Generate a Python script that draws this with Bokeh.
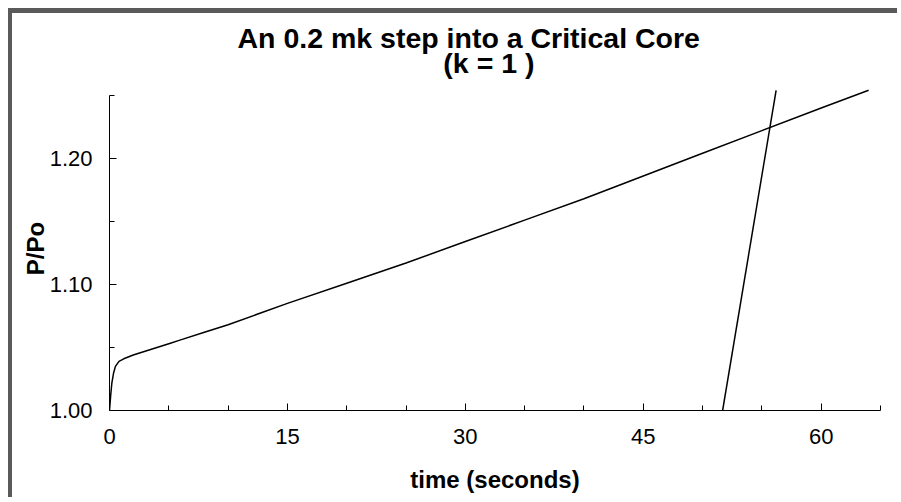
from bokeh.plotting import figure
from bokeh.models import Range1d, FixedTicker, Title
from bokeh.embed import file_html
from bokeh.resources import INLINE

# data
t_main = [0.0, 0.1, 0.2, 0.35, 0.5, 0.8, 1.2, 2.0, 3.0, 4.0, 5.0, 6.0, 8.0, 10.0,
          15.0, 20.0, 25.0, 30.0, 35.0, 40.0, 45.0, 50.0, 55.0, 60.0, 64.0]
p_main = [1.000, 1.012, 1.022, 1.030, 1.035, 1.039, 1.041, 1.044, 1.047, 1.050, 1.053, 1.056,
          1.062, 1.068, 1.085, 1.101, 1.117, 1.134, 1.151, 1.168, 1.186, 1.204, 1.222, 1.240, 1.254]
t_steep = [51.6, 56.2]
p_steep = [0.995, 1.254]

x_major = [0, 15, 30, 45, 60]
x_minor = [5, 10, 20, 25, 35, 40, 50, 55, 65]
y_major = [1.00, 1.10, 1.20]
y_minor = [1.05, 1.15, 1.25]
y_labels = ["1.00", "1.10", "1.20"]

title1 = "An 0.2 mk step into a Critical Core"
title2 = "(k = 1 )"
FONT = "Liberation Sans"

p = figure(width=889, height=489, output_backend="svg", toolbar_location=None,
           x_range=Range1d(0, 65), y_range=Range1d(1.00, 1.257),
           min_border_left=97, min_border_right=21, min_border_top=73, min_border_bottom=92)
p.styles = {"border-top": "5px solid #5a5a5a", "border-left": "4px solid #5a5a5a",
            "margin-left": "8px", "margin-top": "8px"}
p.outline_line_color = None
p.grid.visible = False
p.background_fill_color = "white"
p.border_fill_color = "white"

# two-line title; the second line is indented so it sits under the middle of the chart
p.add_layout(Title(text=title1 + "\n" + "\u00a0" * 26 + title2, align="left", offset=128,
                   text_font=FONT, text_font_size="28.5px", text_font_style="bold",
                   text_color="black", text_line_height=0.79, standoff=14), "above")

p.line(t_main, p_main, line_color="black", line_width=1.5)
p.line(t_steep, p_steep, line_color="black", line_width=1.5)

for ax in (p.xaxis[0], p.yaxis[0]):
    ax.axis_line_color = "black"
    ax.major_tick_line_color = "black"
    ax.minor_tick_line_color = "black"
    ax.major_tick_out = 0
    ax.minor_tick_out = 0
    ax.major_tick_in = 7
    ax.minor_tick_in = 5
    ax.major_label_text_font = FONT
    ax.major_label_text_font_size = "22px"
    ax.major_label_text_color = "black"
    ax.axis_label_text_font = FONT
    ax.axis_label_text_font_size = "24px"
    ax.axis_label_text_font_style = "bold"
    ax.axis_label_text_color = "black"

p.xaxis.ticker = FixedTicker(ticks=x_major, minor_ticks=x_minor)
p.yaxis.ticker = FixedTicker(ticks=y_major, minor_ticks=y_minor)
p.yaxis.bounds = (1.00, 1.25)
p.yaxis.major_label_overrides = {v: s for v, s in zip(y_major, y_labels)}
p.xaxis.axis_label = "time (seconds)"
p.yaxis.axis_label = "P/Po"
p.xaxis.major_label_standoff = 18
p.yaxis.major_label_standoff = 17
p.xaxis.axis_label_standoff = 19
p.yaxis.axis_label_standoff = -2

open("out.html", "w").write(file_html(p, INLINE))
